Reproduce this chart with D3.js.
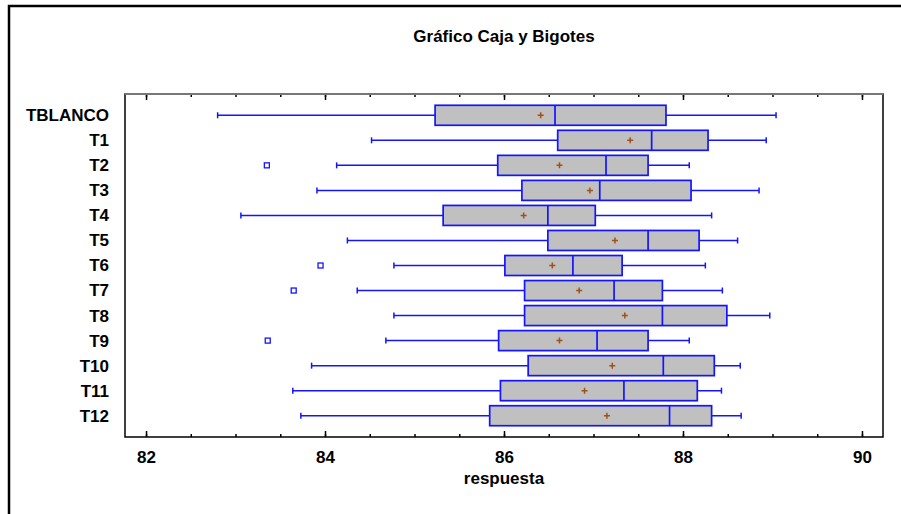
<!DOCTYPE html>
<html>
<head>
<meta charset="utf-8">
<script src="https://cdn.jsdelivr.net/npm/d3@7"></script>
<style>
  body { margin: 0; background: #fff; }
  svg { display: block; }
  text { font-family: "Liberation Sans", Arial, sans-serif; font-weight: bold; }
</style>
</head>
<body>
<svg id="chart"></svg>
<script>
// treatments, top to bottom
var categories = ['TBLANCO', 'T1', 'T2', 'T3', 'T4', 'T5', 'T6', 'T7', 'T8', 'T9', 'T10', 'T11', 'T12'];
var whiskerLow  = [82.80, 84.52, 84.13, 83.91, 83.06, 84.25, 84.77, 84.36, 84.77, 84.68, 83.85, 83.64, 83.73];
var q1          = [85.23, 86.60, 85.93, 86.20, 85.32, 86.49, 86.01, 86.23, 86.23, 85.94, 86.27, 85.96, 85.84];
var medians     = [86.57, 87.65, 87.14, 87.07, 86.49, 87.61, 86.77, 87.23, 87.77, 87.04, 87.78, 87.34, 87.85];
var q3          = [87.81, 88.28, 87.61, 88.09, 87.02, 88.18, 87.32, 87.77, 88.49, 87.61, 88.35, 88.16, 88.32];
var whiskerHigh = [89.04, 88.93, 88.07, 88.85, 88.32, 88.61, 88.25, 88.44, 88.97, 88.07, 88.64, 88.43, 88.65];
var means       = [86.41, 87.41, 86.62, 86.96, 86.22, 87.24, 86.54, 86.84, 87.35, 86.62, 87.21, 86.90, 87.15];
var outlierCats = ['T2', 'T6', 'T7', 'T9'];
var outlierVals = [83.35, 83.95, 83.65, 83.36];
var majorTicks = [82, 84, 86, 88, 90];
var minorTicks = d3.range(82, 90.01, 0.5);

var width = 901;
var height = 514;
var plotLeft = 125, plotRight = 883, plotTop = 94, plotBottom = 437;
var blue = '#1414ff';
var font = '"Liberation Sans", Arial, sans-serif';

var svg = d3.select('#chart')
    .attr('width', width)
    .attr('height', height);

// outer frame (only top and left edges show in the window)
svg.append('rect')
    .attr('x', 9).attr('y', 6)
    .attr('width', width).attr('height', height)
    .attr('fill', 'none')
    .attr('stroke', '#000')
    .attr('stroke-width', 2.5);

var x = d3.scaleLinear()
    .domain([81.765, 90.235])
    .range([plotLeft, plotRight]);

var y = d3.scalePoint()
    .domain(categories)
    .range([plotTop, plotBottom])
    .padding(0.85);

var boxH = 20;
var capH = 6;

svg.append('text')
    .attr('x', (plotLeft + plotRight) / 2)
    .attr('y', 42)
    .attr('text-anchor', 'middle')
    .attr('font-size', 17)
    .text('Gráfico Caja y Bigotes');

// category labels
var yAxis = svg.append('g')
    .attr('transform', 'translate(' + plotLeft + ',0)')
    .call(d3.axisLeft(y).tickSize(0).tickPadding(16));
yAxis.select('.domain').remove();
yAxis.selectAll('text')
    .attr('font-size', 17)
    .attr('font-family', font)
    .attr('fill', '#000');

// bottom ticks + labels
svg.append('g')
    .attr('transform', 'translate(0,' + plotBottom + ')')
    .call(d3.axisBottom(x).tickValues(minorTicks).tickSize(-3).tickFormat(''));
var xMajor = svg.append('g')
    .attr('transform', 'translate(0,' + plotBottom + ')')
    .call(d3.axisBottom(x).tickValues(majorTicks).tickSize(-6).tickPadding(14).tickFormat(d3.format('d')));
xMajor.selectAll('text')
    .attr('font-size', 17)
    .attr('font-family', font)
    .attr('fill', '#000');

// top ticks
svg.append('g')
    .attr('transform', 'translate(0,' + plotTop + ')')
    .call(d3.axisTop(x).tickValues(minorTicks).tickSize(-3).tickFormat(''));
svg.append('g')
    .attr('transform', 'translate(0,' + plotTop + ')')
    .call(d3.axisTop(x).tickValues(majorTicks).tickSize(-6).tickFormat(''));

svg.selectAll('.domain').remove();
svg.selectAll('.tick line').attr('stroke', '#000').attr('stroke-width', 1.5);

// plot frame
svg.append('rect')
    .attr('x', plotLeft).attr('y', plotTop)
    .attr('width', plotRight - plotLeft).attr('height', plotBottom - plotTop)
    .attr('fill', 'none')
    .attr('stroke', '#000')
    .attr('stroke-width', 1.5);
svg.append('line')
    .attr('x1', plotLeft).attr('x2', plotRight)
    .attr('y1', plotTop).attr('y2', plotTop)
    .attr('stroke', '#777')
    .attr('stroke-width', 2);

svg.append('text')
    .attr('x', (plotLeft + plotRight) / 2)
    .attr('y', 484)
    .attr('text-anchor', 'middle')
    .attr('font-size', 17)
    .text('respuesta');

var rows = svg.append('g')
    .selectAll('g')
    .data(categories)
    .join('g')
    .attr('transform', function(d) { return 'translate(0,' + y(d) + ')'; });

// whiskers
rows.append('line')
    .attr('x1', function(d, i) { return x(whiskerLow[i]); })
    .attr('x2', function(d, i) { return x(whiskerHigh[i]); })
    .attr('stroke', blue)
    .attr('stroke-width', 1.5);
rows.append('line')
    .attr('x1', function(d, i) { return x(whiskerLow[i]); })
    .attr('x2', function(d, i) { return x(whiskerLow[i]); })
    .attr('y1', -capH / 2).attr('y2', capH / 2)
    .attr('stroke', blue)
    .attr('stroke-width', 1.5);
rows.append('line')
    .attr('x1', function(d, i) { return x(whiskerHigh[i]); })
    .attr('x2', function(d, i) { return x(whiskerHigh[i]); })
    .attr('y1', -capH / 2).attr('y2', capH / 2)
    .attr('stroke', blue)
    .attr('stroke-width', 1.5);

// boxes
rows.append('rect')
    .attr('x', function(d, i) { return x(q1[i]); })
    .attr('width', function(d, i) { return x(q3[i]) - x(q1[i]); })
    .attr('y', -boxH / 2)
    .attr('height', boxH)
    .attr('fill', '#c0c0c0')
    .attr('stroke', blue)
    .attr('stroke-width', 1.7);
rows.append('line')
    .attr('x1', function(d, i) { return x(medians[i]); })
    .attr('x2', function(d, i) { return x(medians[i]); })
    .attr('y1', -boxH / 2).attr('y2', boxH / 2)
    .attr('stroke', blue)
    .attr('stroke-width', 1.7);

// mean markers
rows.append('path')
    .attr('d', function(d, i) {
        var cx = x(means[i]);
        return 'M' + (cx - 3) + ',0H' + (cx + 3) + 'M' + cx + ',-3V3';
    })
    .attr('stroke', '#a0501a')
    .attr('stroke-width', 1.5);

// outliers
svg.append('g')
    .selectAll('rect')
    .data(outlierVals)
    .join('rect')
    .attr('x', function(d) { return x(d) - 2.5; })
    .attr('y', function(d, i) { return y(outlierCats[i]) - 2.5; })
    .attr('width', 5)
    .attr('height', 5)
    .attr('fill', '#fff')
    .attr('stroke', blue)
    .attr('stroke-width', 1.3);
</script>
</body>
</html>
